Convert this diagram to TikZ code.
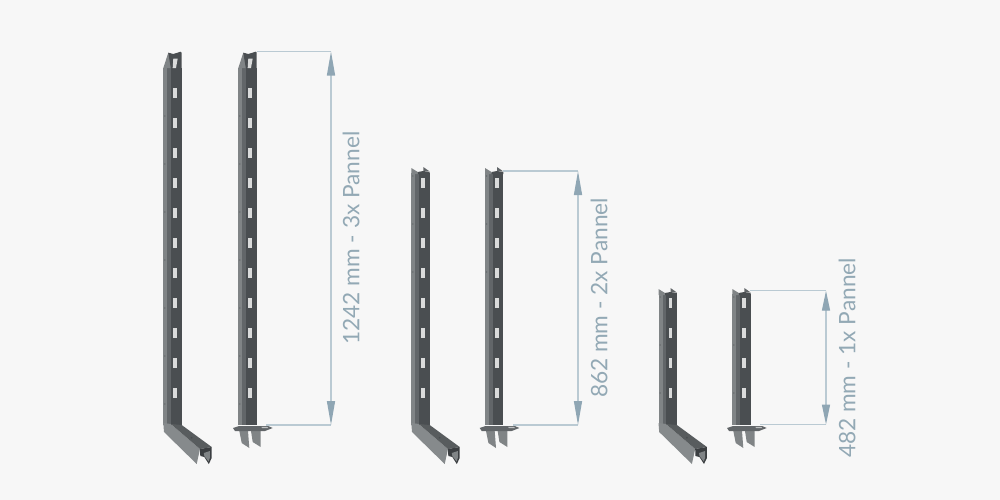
\documentclass[tikz,border=0pt]{standalone}
\usepackage{fontspec}
\setmainfont{Lato}
\usetikzlibrary{arrows.meta}
\definecolor{paper}{HTML}{F7F7F7}
\definecolor{dimline}{HTML}{BACAD3}
\definecolor{dimhead}{HTML}{8FA6B4}
\definecolor{dimtext}{HTML}{93A9B5}
\definecolor{steellight}{HTML}{808486}
\definecolor{steelmid}{HTML}{626669}
\definecolor{steeldark}{HTML}{4A4E51}
\definecolor{steeltop}{HTML}{585C5E}
\definecolor{slotwhite}{HTML}{DADBDB}

% rail body: #1 top, #2 bottom, local x from 0 to 18.4
\newcommand{\railbody}[2]{
    \fill [steeldark] (7.5,#1) rectangle (18.4,#2);
    \fill [steelmid] (4,#1) rectangle (7.5,#2);
    \fill [steellight] (0,#1) rectangle (4,#2);
}
\newcommand{\railslot}[1]{
    \fill [slotwhite] (10,#1-5) rectangle (13.6,#1+5);
}
% the short rails have two flanges at the top, #2 is the list of slots
\newcommand{\railtopshort}[2]{
    \railbody{#1+4.5}{425}
    \fill [steellight] (0,#1) -- (6.5,#1+4) -- (6.5,#1+6) -- (0,#1+6) -- cycle;
    \fill [steeldark] (6.5,#1+4) -- (12,#1+3) -- (18.4,#1+4) -- (18.4,#1+6) -- (6.5,#1+6) -- cycle;
    \fill [steelmid] (12,#1+3) -- (12,#1-1) -- (18.4,#1+3.5) -- cycle;
    \foreach \holey in {#1+8,#1+56,#1+104}
        \fill [steelmid] (1.6,\holey) circle (0.8);
    \foreach \holey in {#2}
        {\railslot{\holey}}
}
% the tall rails are cut on a slant
\newcommand{\railtoptall}{
    \railbody{68}{425}
    \fill [steellight] (0,68) -- (5,52.7) -- (7.5,53.5) -- (7.5,68) -- cycle;
    \fill [steeldark] (5,52.7) -- (10,54) -- (17.4,51.7) -- (18.4,52.7) -- (18.4,68) -- (7.5,68) -- cycle;
    \fill [slotwhite] (10,58.5) -- (14.4,58.5) -- (12.7,68) -- (9.4,68) -- cycle;
    \foreach \holey in {93,123,153,183,213,243,273,303,333,363,393}
        {\railslot{\holey}}
    \foreach \holey in {116,164,212,260,308,356,404}
        \fill [steelmid] (1.6,\holey) circle (0.8);
}
\newcommand{\elbowend}{
    \fill [steellight!95!white] (0,423) -- (0.7,432) -- (33.4,464) -- (36.7,449) -- (7.5,424) -- cycle;
    \fill [steeltop] (7.5,424) -- (18.4,425) -- (48.4,447) -- (36.7,449) -- cycle;
    \fill [steeldark!80!black] (36.7,449) -- (48.4,447) -- (48.4,458) -- (45.5,464) -- (41,457) -- (37,456) -- cycle;
    \fill [steellight] (40.5,453) -- (46.5,451) -- (46.5,458) -- (45.3,461.5) -- (41,456) -- cycle;
    \fill [steeldark] (28.4,437.7) circle (1);
}
\newcommand{\footend}{
    \fill [steellight] (1,431) -- (9.7,431) -- (11,448) -- (3.4,443) -- cycle;
    \fill [steellight] (12.7,431) -- (22.4,431) -- (22.4,447) -- (14.4,442) -- cycle;
    \fill [steelmid] (-5.3,428) -- (0.7,426) -- (29.7,426) -- (34.4,428) -- (26.7,431) -- (-3.3,431) -- cycle;
    \fill [slotwhite!70!steellight] (23,426.8) -- (29,426.8) -- (30,428.2) -- (24,428.2) -- cycle;
}

\begin{document}
\begin{tikzpicture}[x=0.75pt, y=-0.75pt]
    \tikzstyle{leader} = [draw=dimline, line width=0.9pt]
    \tikzstyle{dimension} = [draw=dimline, line width=1pt, {Triangle[length=18pt, width=6pt, color=dimhead]}-{Triangle[length=18pt, width=6pt, color=dimhead]}]
    \tikzstyle{shortdimension} = [draw=dimline, line width=1pt, {Triangle[length=15pt, width=6pt, color=dimhead]}-{Triangle[length=15pt, width=6pt, color=dimhead]}]
    \tikzstyle{dimlabel} = [rotate=90, text=dimtext, font=\fontsize{17pt}{18pt}\selectfont, inner sep=0pt]

    \fill [paper] (0,0) rectangle (1000,500);
    \useasboundingbox (0,0) rectangle (1000,500);

    % tall pair
    \begin{scope}[shift={(163.3,0)}]
        \railtoptall
        \elbowend
    \end{scope}
    \begin{scope}[shift={(238.3,0)}]
        \railtoptall
        \footend
    \end{scope}

    % middle pair
    \begin{scope}[shift={(411.3,0)}]
        \railtopshort{168}{183,213,243,273,303,333,363,393}
        \elbowend
    \end{scope}
    \begin{scope}[shift={(485,0)}]
        \railtopshort{168}{183,213,243,273,303,333,363,393}
        \footend
    \end{scope}

    % short pair
    \begin{scope}[shift={(658.5,0)}]
        \railtopshort{289}{303,333,363,393}
        \elbowend
    \end{scope}
    \begin{scope}[shift={(732.3,0)}]
        \railtopshort{289}{303,333,363,393}
        \footend
    \end{scope}

    \coordinate (top 1) at (331,51.5);
    \coordinate (bottom 1) at (331,425);
    \coordinate (rail 1) at (256.7,51.5);
    \coordinate (foot 1) at (266,425);
    \coordinate (top 2) at (578,171);
    \coordinate (bottom 2) at (578,425);
    \coordinate (rail 2) at (503.3,171);
    \coordinate (foot 2) at (513,425);
    \coordinate (top 3) at (826,290.7);
    \coordinate (bottom 3) at (826,424.5);
    \coordinate (rail 3) at (750,290.7);
    \coordinate (foot 3) at (760,424.5);

    \path [leader] (rail 1) -- (top 1);
    \path [leader] (foot 1) -- (bottom 1);
    \path [dimension] (top 1) -- (bottom 1);
    \path [leader] (rail 2) -- (top 2);
    \path [leader] (foot 2) -- (bottom 2);
    \path [dimension] (top 2) -- (bottom 2);
    \path [leader] (rail 3) -- (top 3);
    \path [leader] (foot 3) -- (bottom 3);
    \path [shortdimension] (top 3) -- (bottom 3);

    \node [dimlabel] (label 1) at (351,238) {1242 mm - 3x Pannel};
    \node [dimlabel] (label 2) at (599,298) {862 mm - 2x Pannel};
    \node [dimlabel] (label 3) at (847,358) {482 mm - 1x Pannel};
\end{tikzpicture}
\end{document}
